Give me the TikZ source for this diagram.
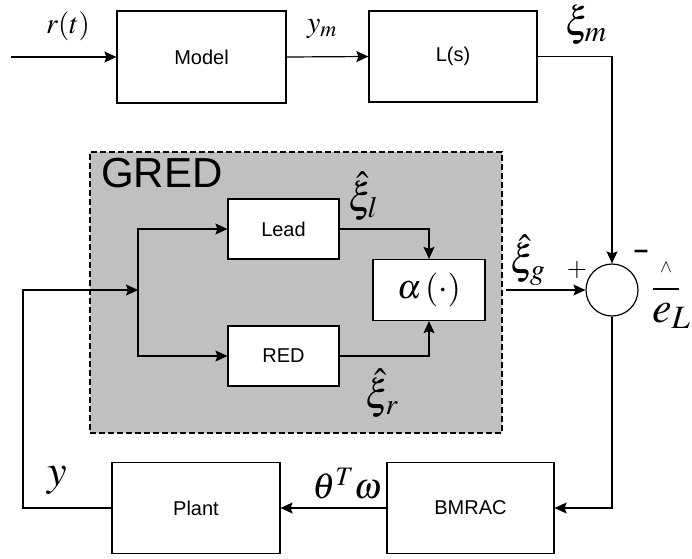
\documentclass[tikz,border=0pt]{standalone}
\usepackage{mathptmx}
\usepackage[no-math]{fontspec}
\setmainfont{Liberation Sans}
\usetikzlibrary{arrows.meta}
\definecolor{gredgray}{HTML}{C0C0C0}
\newcommand{\fs}[1]{\fontsize{#1}{#1}\selectfont}
\begin{document}
\begin{tikzpicture}[x=1pt,y=-1pt,
  blk/.style={draw,line width=1.2pt,fill=white,inner sep=0pt,font=\fs{20}},
  lab/.style={inner sep=0pt},
  arr/.style={line width=1.2pt,-{Stealth[length=12pt,width=11pt,inset=2pt]}},
  ln/.style={line width=1.2pt}]
\useasboundingbox (0,0) rectangle (692,558);
% GRED container
\node[draw,dashed,dash pattern=on 6pt off 3pt,line width=1.2pt,fill=gredgray,minimum width=412pt,minimum height=281pt,inner sep=0pt] (gred) at (296,292.5) {};
\node[lab,anchor=base west,font=\fs{42}] (gredlab) at (101,187) {GRED};
% blocks
\node[blk,minimum width=169pt,minimum height=92pt] (model) at (201.5,57) {Model};
\node[blk,minimum width=168pt,minimum height=91pt] (ls) at (453,56.5) {L(s)};
\node[blk,minimum width=111pt,minimum height=60pt] (lead) at (283.5,229) {Lead};
\node[blk,minimum width=111pt,minimum height=60pt] (red) at (283.5,356) {RED};
\node[blk,minimum width=112pt,minimum height=61pt,font=\fs{34}] (alpha) at (429,290) {$\alpha\,(\cdot)$};
\node[draw,circle,line width=1.2pt,minimum size=52pt,inner sep=0pt] (sum) at (612,290) {};
\node[blk,minimum width=168pt,minimum height=91pt] (plant) at (196,508) {Plant};
\node[blk,minimum width=167pt,minimum height=91pt] (bmrac) at (470.5,508) {BMRAC};
% coordinates
\coordinate (in) at (11,57);
\coordinate (br) at (138,290);
\coordinate (fb) at (23,290);
\coordinate (gout) at (506,290);
% connectors
\draw[arr] (in) -- (model.west);
\draw[arr] (model.east) -- (ls.west);
\draw[arr] (ls.east) -| (sum.north);
\draw[arr] (gout) -- (sum.west);
\draw[arr] (sum.south) |- (bmrac.east);
\draw[arr] (bmrac.west) -- (plant.east);
\draw[arr] (plant.west) -| (fb) -- (br);
\draw[arr] (br) |- (lead.west);
\draw[arr] (br) |- (red.west);
\draw[arr] (lead.east) -| (alpha.north);
\draw[arr] (red.east) -| (alpha.south);
% labels
\node[lab,font=\fs{29}] (lr) at (68,26) {$r(t)$};
\node[lab,font=\fs{30}] (lym) at (322,29) {$y_m$};
\node[lab,font=\fs{40}] (lxim) at (586,25) {$\xi_m$};
\node[lab,font=\fs{40}] (lxil) at (363,196) {$\hat{\xi}_l$};
\node[lab,font=\fs{40}] (lxir) at (382,393) {$\hat{\xi}_r$};
\node[lab,font=\fs{40}] (lxig) at (528,260) {$\hat{\xi}_g$};
\node[lab,font=\fs{26}] (lplus) at (577,270) {$+$};
\node[lab,font=\fs{26}\bfseries] (lminus) at (641,254) {–};
\node[lab,font=\fs{36}] (lthw) at (347,484) {$\theta^T\omega$};
\node[lab,font=\fs{44}] (ly) at (57,480) {$y$};
\node[lab,anchor=base west,font=\fs{44}] (leL) at (652,322) {$e_L$};
\draw[line width=1.3pt] (653,289) -- (679,289);
\node[lab,font=\fs{18}] (lhat) at (666,268) {$\wedge$};
\end{tikzpicture}
\end{document}
